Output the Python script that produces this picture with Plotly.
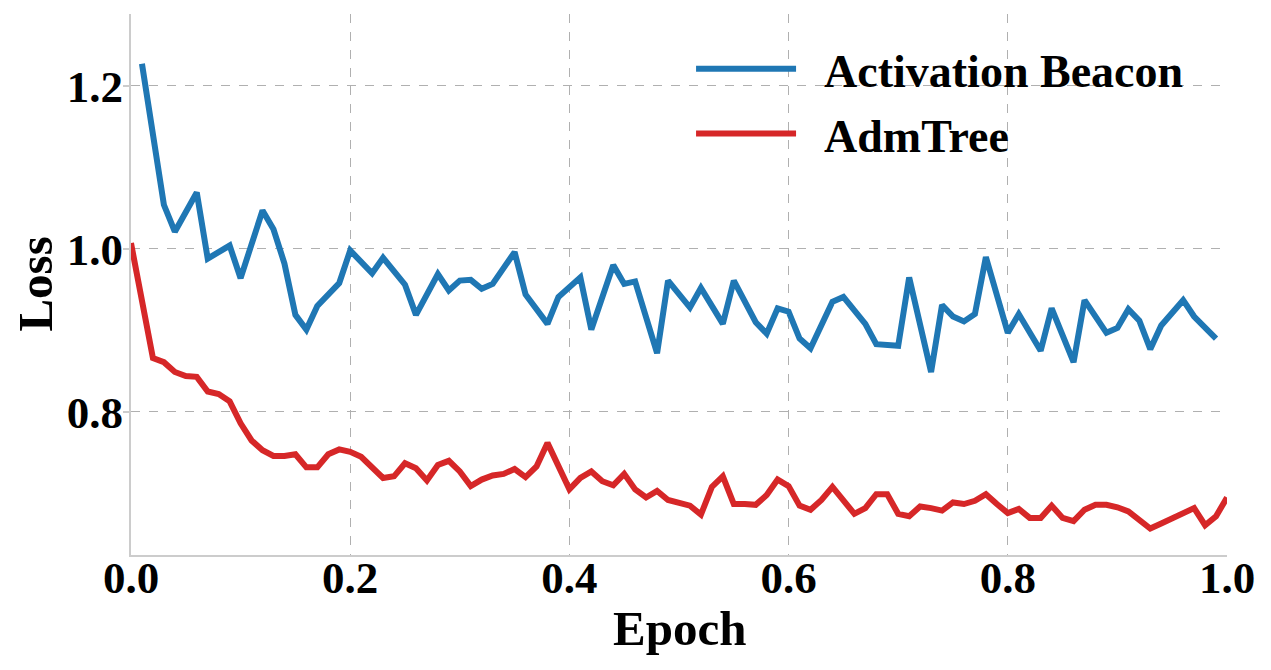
import plotly.graph_objects as go

# Epoch positions
epoch_beacon = [round(0.01 * i, 2) for i in range(1, 100)]
epoch_admtree = [round(0.01 * i, 2) for i in range(0, 101)]

loss_beacon = [
    1.227, 1.140, 1.054, 1.021, 1.045, 1.069, 0.988, 0.996, 1.004, 0.964,
    1.006, 1.047, 1.024, 0.982, 0.919, 0.901, 0.930, 0.944, 0.958, 0.998,
    0.984, 0.970, 0.989, 0.972, 0.956, 0.919, 0.944, 0.969, 0.949, 0.961,
    0.962, 0.951, 0.957, 0.977, 0.996, 0.944, 0.926, 0.908, 0.941, 0.953,
    0.965, 0.901, 0.940, 0.980, 0.957, 0.960, 0.916, 0.872, 0.961, 0.945,
    0.928, 0.952, 0.930, 0.908, 0.961, 0.935, 0.910, 0.896, 0.927, 0.923,
    0.890, 0.878, 0.906, 0.935, 0.941, 0.925, 0.908, 0.883, 0.882, 0.881,
    0.965, 0.907, 0.849, 0.931, 0.917, 0.911, 0.920, 0.990, 0.943, 0.897,
    0.920, 0.898, 0.875, 0.927, 0.894, 0.861, 0.937, 0.917, 0.897, 0.903,
    0.926, 0.912, 0.877, 0.906, 0.922, 0.937, 0.917, 0.903, 0.890,
]

loss_admtree = [
    1.007, 0.940, 0.866, 0.861, 0.849, 0.844, 0.843, 0.825, 0.822, 0.813,
    0.786, 0.765, 0.753, 0.746, 0.746, 0.748, 0.732, 0.732, 0.748, 0.754,
    0.751, 0.745, 0.732, 0.719, 0.721, 0.737, 0.731, 0.716, 0.735, 0.740,
    0.727, 0.709, 0.717, 0.722, 0.724, 0.730, 0.720, 0.733, 0.762, 0.733,
    0.705, 0.719, 0.727, 0.715, 0.710, 0.724, 0.705, 0.695, 0.703, 0.692,
    0.688, 0.685, 0.674, 0.708, 0.721, 0.687, 0.687, 0.686, 0.698, 0.717,
    0.709, 0.685, 0.680, 0.692, 0.708, 0.692, 0.675, 0.682, 0.699, 0.699,
    0.675, 0.672, 0.684, 0.682, 0.679, 0.689, 0.687, 0.691, 0.699, 0.687,
    0.676, 0.681, 0.670, 0.670, 0.685, 0.670, 0.666, 0.680, 0.686, 0.686,
    0.683, 0.678, 0.667, 0.657, 0.663, 0.670, 0.676, 0.682, 0.661, 0.672,
    0.695,
]

series_names = ["Activation Beacon", "AdmTree"]
x_ticks = [0.0, 0.2, 0.4, 0.6, 0.8, 1.0]
x_tick_labels = ["0.0", "0.2", "0.4", "0.6", "0.8", "1.0"]
y_ticks = [0.8, 1.0, 1.2]
y_tick_labels = ["0.8", "1.0", "1.2"]
x_title = "Epoch"
y_title = "Loss"

FONT = "Liberation Serif"
GAP = "\u2002"

fig = go.Figure()
fig.add_trace(go.Scatter(
    x=epoch_beacon, y=loss_beacon, mode="lines", name=GAP + series_names[0],
    line=dict(color="#1f77b4", width=6), legendgroup="a",
))
fig.add_trace(go.Scatter(
    x=epoch_admtree, y=loss_admtree, mode="lines", name=GAP + series_names[1],
    line=dict(color="#d62728", width=6), legendgroup="b",
))

fig.update_layout(
    width=1271, height=670,
    margin=dict(l=123, r=52, t=6, b=123),
    paper_bgcolor="white", plot_bgcolor="white",
    font=dict(family=FONT, color="black"),
    showlegend=True,
    legend=dict(
        x=0.511, y=0.966, xanchor="left", yanchor="top",
        bgcolor="rgba(0,0,0,0)",
        font=dict(family=FONT, size=46, color="black", weight="bold"),
        itemwidth=100, tracegroupgap=2, traceorder="grouped",
    ),
    annotations=[
        dict(text=x_title, xref="paper", yref="paper", x=0.5, y=-0.135,
             xanchor="center", yanchor="middle", showarrow=False,
             font=dict(family=FONT, size=49, color="black", weight="bold")),
        dict(text=y_title, xref="paper", yref="paper", x=-0.0875, y=0.5,
             xanchor="center", yanchor="middle", showarrow=False, textangle=-90,
             font=dict(family=FONT, size=49, color="black", weight="bold")),
    ],
)
fig.update_xaxes(
    range=[0, 1.0], tickvals=x_ticks, ticktext=x_tick_labels,
    tickfont=dict(family=FONT, size=45, color="black", weight="bold"),
    showgrid=True, gridcolor="#b0b0b0", griddash="dash", gridwidth=1,
    showline=True, linecolor="#cccccc", linewidth=2, mirror=False,
    zeroline=False, ticks="", automargin=False, ticklabelstandoff=-18,
)
fig.update_yaxes(
    range=[0.6245, 1.288], tickvals=y_ticks, ticktext=y_tick_labels,
    tickfont=dict(family=FONT, size=45, color="black", weight="bold"),
    showgrid=True, gridcolor="#b0b0b0", griddash="dash", gridwidth=1,
    showline=True, linecolor="#cccccc", linewidth=2, mirror=False,
    zeroline=False, ticks="outside", ticklen=6, tickcolor="#cccccc", tickwidth=1.5,
    automargin=False, ticklabelstandoff=-9,
)

fig.write_html("out.html")
